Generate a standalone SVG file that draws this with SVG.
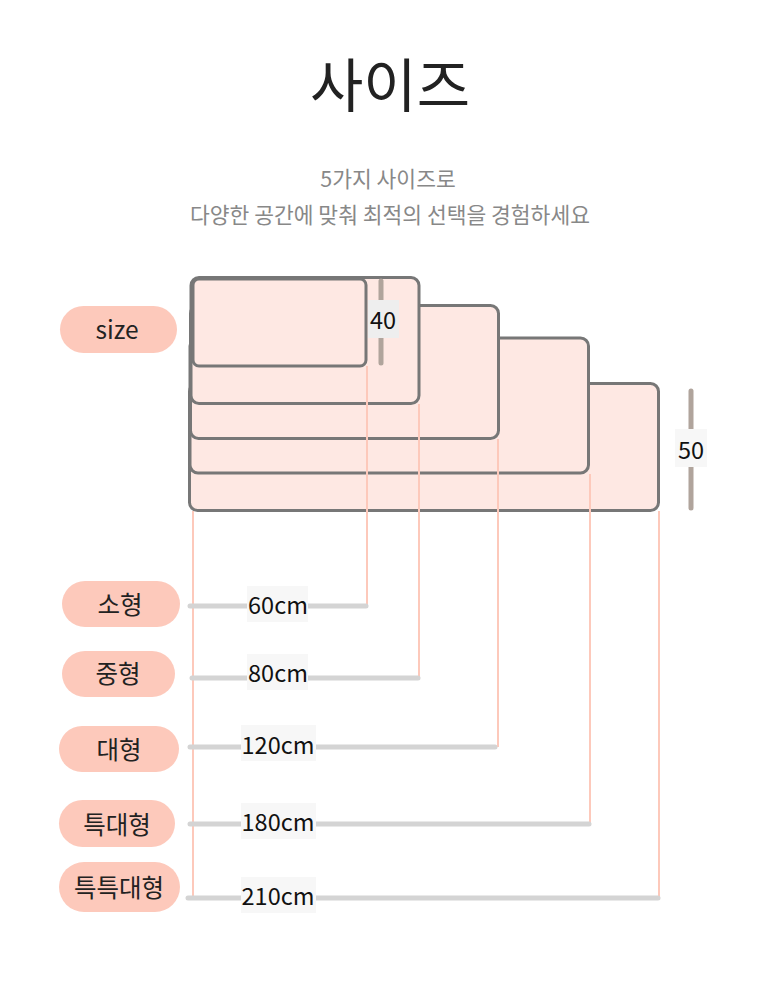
<svg xmlns="http://www.w3.org/2000/svg" width="779" height="997" viewBox="0 0 779 997">
<style>
.t{font-family:"Noto Sans CJK KR","Noto Sans",sans-serif;}
.pill{fill:#fdc9bb;}
.pt{font-family:"Noto Sans CJK KR","Noto Sans",sans-serif;font-size:24.5px;fill:#222;text-anchor:middle;dominant-baseline:central;}
.box{fill:#fee8e3;stroke:#777;stroke-width:3;}
.pk{stroke:#fdc9bb;stroke-width:2;fill:none;}
.gb{stroke:#d4d4d4;stroke-width:5;stroke-linecap:round;fill:none;}
.lb{fill:#f7f7f7;}
.lt{font-family:"Noto Sans CJK KR","Noto Sans",sans-serif;font-size:23.5px;fill:#111;text-anchor:middle;dominant-baseline:central;}
.dim{stroke:#b0a49c;stroke-width:5;stroke-linecap:round;}
</style>
<rect width="779" height="997" fill="#fff"/>
<g id="title">
<text class="t" x="390" y="107" font-size="58" font-weight="400" fill="#222" text-anchor="middle">사이즈</text>
<text class="t" x="388" y="187" font-size="21.5" fill="#888" text-anchor="middle">5가지 사이즈로</text>
<text class="t" x="390" y="223" font-size="21.5" fill="#888" text-anchor="middle">다양한 공간에 맞춰 최적의 선택을 경험하세요</text>
</g>
<g id="boxes">
<rect class="box" x="189.5" y="383.5" width="469" height="127" rx="8"/>
<rect class="box" x="190" y="338" width="398.5" height="135" rx="8"/>
<rect class="box" x="190.5" y="305.5" width="308" height="133" rx="8"/>
<rect class="box" x="191" y="277.5" width="228" height="126" rx="8"/>
<rect class="box" x="193" y="279" width="173" height="87" rx="6"/>
</g>
<g id="dim40">
<line class="dim" x1="381" y1="281" x2="381" y2="363"/>
<rect x="368" y="300" width="31" height="38" fill="#eeeeee"/>
<text class="lt" x="383" y="319" font-size="24">40</text>
</g>
<g id="dim50">
<line class="dim" x1="691" y1="391" x2="691" y2="508"/>
<rect x="675" y="429" width="32" height="38" fill="#f7f7f7"/>
<text class="lt" x="691" y="449" font-size="24">50</text>
</g>
<g id="connectors">
<line class="pk" x1="193" y1="511" x2="193" y2="898"/>
<line class="pk" x1="367" y1="366" x2="367" y2="606"/>
<line class="pk" x1="419" y1="404" x2="419" y2="678"/>
<line class="pk" x1="498" y1="439" x2="498" y2="747"/>
<line class="pk" x1="590" y1="474" x2="590" y2="824"/>
<line class="pk" x1="659" y1="511" x2="659" y2="898"/>
<line class="gb" x1="190" y1="606" x2="366" y2="606"/>
<line class="gb" x1="192" y1="678" x2="418" y2="678"/>
<line class="gb" x1="190" y1="747" x2="495" y2="747"/>
<line class="gb" x1="190" y1="824" x2="589" y2="824"/>
<line class="gb" x1="188" y1="898" x2="658" y2="898"/>
</g>
<g id="len60">
<rect class="lb" x="247" y="586" width="61" height="36"/>
<text class="lt" x="278" y="604">60cm</text>
</g>
<g id="len80">
<rect class="lb" x="247" y="654" width="61" height="36"/>
<text class="lt" x="278" y="672">80cm</text>
</g>
<g id="len120">
<rect class="lb" x="241" y="725" width="75" height="36"/>
<text class="lt" x="278" y="744">120cm</text>
</g>
<g id="len180">
<rect class="lb" x="241" y="803" width="75" height="36"/>
<text class="lt" x="278" y="821">180cm</text>
</g>
<g id="len210">
<rect class="lb" x="241" y="877" width="75" height="36"/>
<text class="lt" x="278" y="895">210cm</text>
</g>
<g id="pill-size">
<rect class="pill" x="60" y="306" width="117" height="47" rx="23.5"/>
<text class="pt" x="117" y="328">size</text>
</g>
<g id="pill-small">
<rect class="pill" x="62" y="581" width="118" height="46" rx="23"/>
<text class="pt" x="120" y="603">소형</text>
</g>
<g id="pill-medium">
<rect class="pill" x="62" y="651" width="113" height="46" rx="23"/>
<text class="pt" x="118" y="672">중형</text>
</g>
<g id="pill-large">
<rect class="pill" x="59" y="726" width="120" height="46" rx="23"/>
<text class="pt" x="119" y="748">대형</text>
</g>
<g id="pill-xl">
<rect class="pill" x="59" y="800" width="116" height="47" rx="23.5"/>
<text class="pt" x="117" y="823">특대형</text>
</g>
<g id="pill-xxl">
<rect class="pill" x="59" y="862" width="121" height="50" rx="25"/>
<text class="pt" x="119" y="886">특특대형</text>
</g>
</svg>
